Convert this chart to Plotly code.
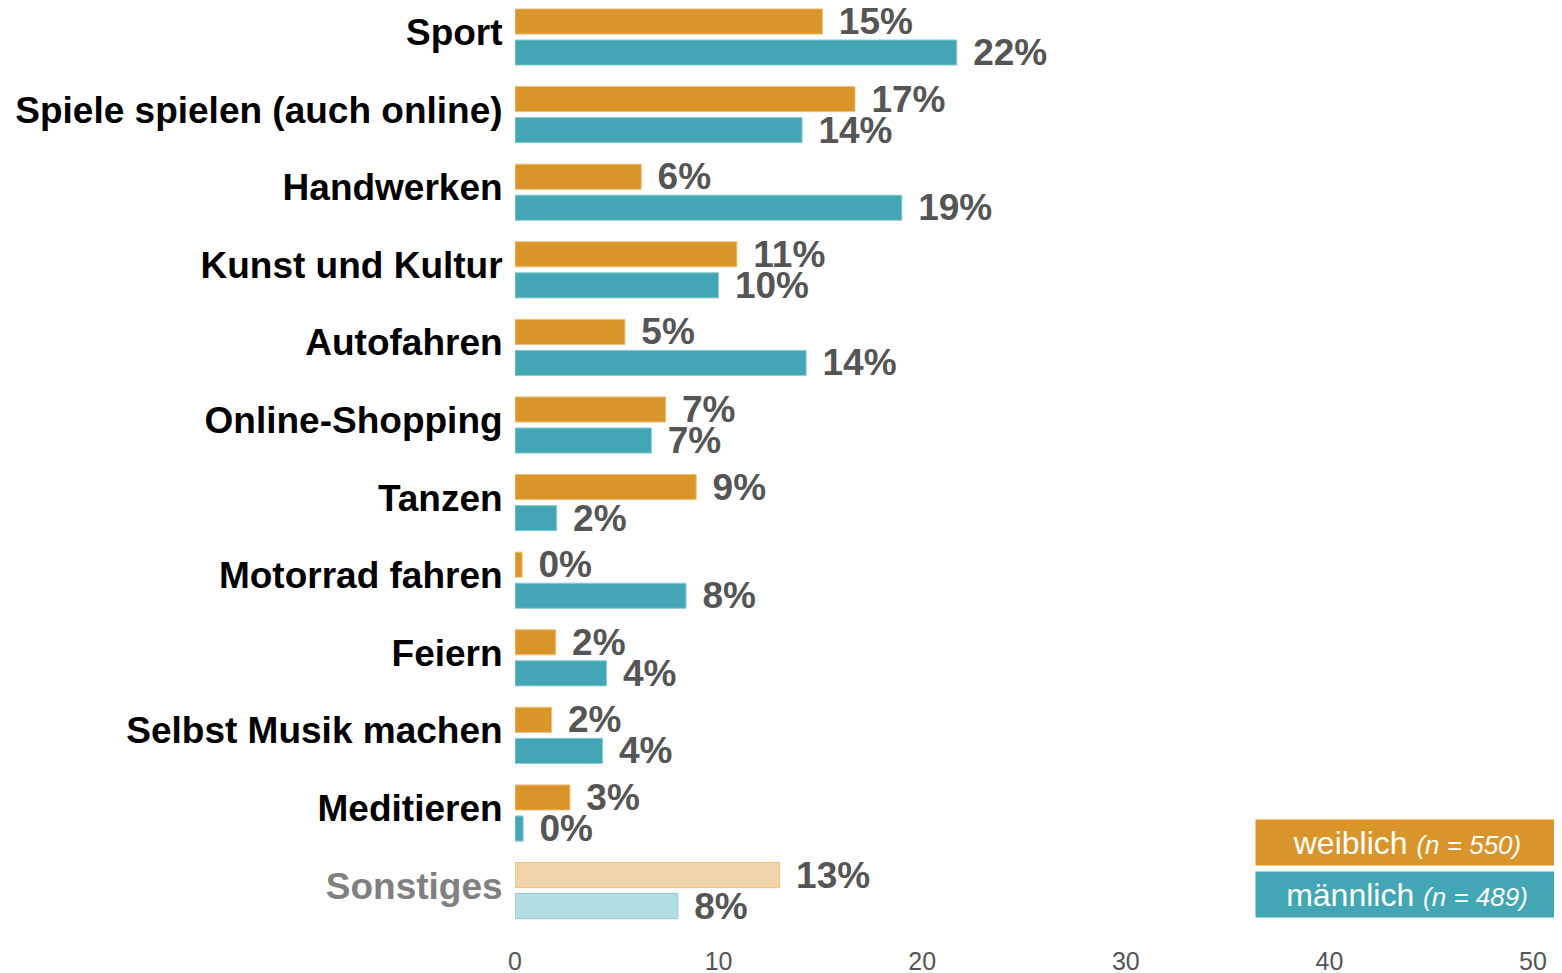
import plotly.graph_objects as go

categories = [
    "Sport",
    "Spiele spielen (auch online)",
    "Handwerken",
    "Kunst und Kultur",
    "Autofahren",
    "Online-Shopping",
    "Tanzen",
    "Motorrad fahren",
    "Feiern",
    "Selbst Musik machen",
    "Meditieren",
    "Sonstiges",
]
weiblich = [15.1, 16.7, 6.2, 10.9, 5.4, 7.4, 8.9, 0.35, 2.0, 1.8, 2.7, 13.0]
maennlich = [21.7, 14.1, 19.0, 10.0, 14.3, 6.7, 2.05, 8.4, 4.5, 4.3, 0.4, 8.0]
x_ticks = [0, 10, 20, 30, 40, 50]

ORANGE, ORANGE_L = "#D9952A", "#EFD4A9"
TEAL, TEAL_L = "#42A6B5", "#B2DDE2"
FONT = "Liberation Sans, Arial, sans-serif"

tick_text = [f"<span style='color:#808080'>{c}</span>" if c == "Sonstiges" else c for c in categories]


def bar(values, name, col, col_light, edge):
    colors = [col_light if c == "Sonstiges" else col for c in categories]
    return go.Bar(
        y=categories, x=values, name=name, orientation="h",
        marker=dict(color=colors, line=dict(color=edge, width=1)),
        text=[f" \u200a{round(v)}%" for v in values],
        textposition="outside", constraintext="none", cliponaxis=False,
        textfont=dict(family=FONT, size=37, color="#555555", weight="bold"),
        hoverinfo="skip",
    )


fig = go.Figure()
fig.add_trace(bar(weiblich, "weiblich", ORANGE, ORANGE_L, "#EDC27F"))
fig.add_trace(bar(maennlich, "männlich", TEAL, TEAL_L, "#8FCCD5"))

# the page body adds 8px, so the plot box is shifted back by that much
fig.update_layout(
    width=1562, height=973,
    margin=dict(l=507, r=37, t=0, b=52),
    barmode="group", bargap=0.2, bargroupgap=0.19,
    plot_bgcolor="white", paper_bgcolor="white",
    showlegend=False,
    font=dict(family=FONT),
    xaxis=dict(range=[0, 50], tickvals=x_ticks, showgrid=False, zeroline=False,
               showline=False, ticks="outside", ticklen=10, tickcolor="rgba(0,0,0,0)",
               tickfont=dict(size=25, color="#555555")),
    yaxis=dict(categoryorder="array", categoryarray=categories, range=[11.495, -0.374],
               tickvals=categories, ticktext=tick_text, showgrid=False,
               ticks="outside", ticklen=4, tickcolor="rgba(0,0,0,0)", ticklabelshift=5,
               tickfont=dict(size=37, color="black", weight="bold")),
)

legend_items = [
    ("weiblich", "550", ORANGE, 0.0939),
    ("männlich", "489", TEAL, 0.0375),
]
for label, n, col, ypos in legend_items:
    fig.add_annotation(
        xref="paper", yref="paper", x=0.7269, y=ypos, xanchor="left", yanchor="middle",
        text=f"{label} <span style='font-size:26px'><i>(n = {n})</i></span>",
        showarrow=False, bgcolor=col, width=300, height=43, align="center",
        font=dict(family=FONT, size=32, color="white"),
    )

fig.write_html("out.html")
